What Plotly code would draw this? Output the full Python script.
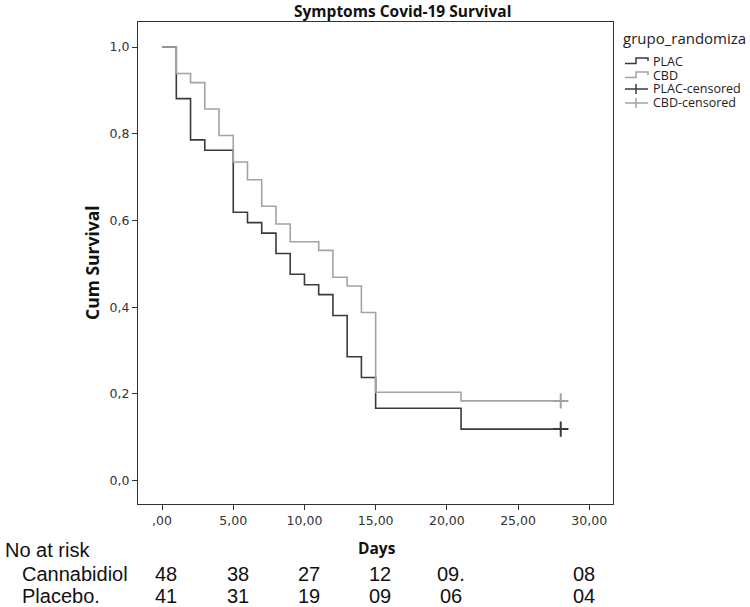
import plotly.graph_objects as go

# ---------------- data ----------------
plac_time = [0, 1, 2, 3, 5, 6, 7, 8, 9, 10, 11, 12, 13, 14, 15, 21, 28]
plac_surv = [1.0, 0.881, 0.786, 0.762, 0.619, 0.595, 0.571, 0.524, 0.476,
             0.452, 0.429, 0.381, 0.286, 0.238, 0.167, 0.119, 0.119]
cbd_time = [0, 1, 2, 3, 4, 5, 6, 7, 8, 9, 11, 12, 13, 14, 15, 21, 28]
cbd_surv = [1.0, 0.939, 0.918, 0.857, 0.796, 0.735, 0.694, 0.633, 0.592,
            0.551, 0.531, 0.469, 0.449, 0.388, 0.204, 0.184, 0.184]
plac_cens_time = [28]
plac_cens_surv = [0.119]
cbd_cens_time = [28]
cbd_cens_surv = [0.184]

x_tickvals = [0, 5, 10, 15, 20, 25, 30]
x_ticktext = [",00", "5,00", "10,00", "15,00", "20,00", "25,00", "30,00"]
y_tickvals = [0.0, 0.2, 0.4, 0.6, 0.8, 1.0]
y_ticktext = ["0,0", "0,2", "0,4", "0,6", "0,8", "1,0"]

risk_days = [0, 5, 10, 15, 20, 29.3]
risk_cbd = ["48", "38", "27", "12", "09.", "08"]
risk_plac = ["41", "31", "19", "09", "06", "04"]

legend_labels = ["PLAC", "CBD", "PLAC-censored", "CBD-censored"]

# ---------------- layout helpers ----------------
W_FIG, H_FIG = 750, 607
L, R, T, B = 138, 613, 22, 504
PW, PH = R - L, B - T


def px(x):
    return (x - L) / PW


def py(y):
    return (B - y) / PH


DARK = "#3a3a3a"
GRAY = "#a3a3a3"
AXC = "#333333"

fig = go.Figure()
fig.add_trace(go.Scatter(x=plac_time, y=plac_surv, mode="lines", line_shape="hv",
                         line=dict(color=DARK, width=1.6), name="PLAC", showlegend=False))
fig.add_trace(go.Scatter(x=cbd_time, y=cbd_surv, mode="lines", line_shape="hv",
                         line=dict(color=GRAY, width=1.6), name="CBD", showlegend=False))
fig.add_trace(go.Scatter(x=plac_cens_time, y=plac_cens_surv, mode="markers",
                         marker=dict(symbol="cross-thin", size=11, line=dict(color=DARK, width=2)),
                         name="PLAC-censored", showlegend=False))
fig.add_trace(go.Scatter(x=cbd_cens_time, y=cbd_cens_surv, mode="markers",
                         marker=dict(symbol="cross-thin", size=11, line=dict(color=GRAY, width=2)),
                         name="CBD-censored", showlegend=False))

x0 = -1.69
x1 = 31.67
y0 = -0.0537
y1 = 1.0577

annotations = []
# title
annotations.append(dict(text="<b>Symptoms Covid-19 Survival</b>", x=px(402), y=py(11),
                        xref="paper", yref="paper", showarrow=False, xanchor="center", yanchor="middle",
                        font=dict(family="Open Sans", size=15.5, color="#111")))
# axis titles
annotations.append(dict(text="<b>Cum Survival</b>", x=px(92), y=py(263), textangle=-90,
                        xref="paper", yref="paper", showarrow=False, xanchor="center", yanchor="middle",
                        font=dict(family="Open Sans", size=17.5, color="#111")))
annotations.append(dict(text="<b>Days</b>", x=px(377), y=py(548),
                        xref="paper", yref="paper", showarrow=False, xanchor="center", yanchor="middle",
                        font=dict(family="Open Sans", size=15.5, color="#111")))
# legend title
annotations.append(dict(text="grupo_randomiza", x=px(621), y=py(38),
                        xref="paper", yref="paper", showarrow=False, xanchor="left", yanchor="middle",
                        font=dict(family="Open Sans", size=15, color="#222")))
leg_y = [61, 75, 89, 103]
leg_col = [DARK, GRAY, DARK, GRAY]
shapes = []
for i, lab in enumerate(legend_labels):
    yy = leg_y[i]
    annotations.append(dict(text=lab, x=px(651), y=py(yy), xref="paper", yref="paper",
                            showarrow=False, xanchor="left", yanchor="middle",
                            font=dict(family="Open Sans", size=12.5, color="#222")))
    if i < 2:
        path = "M {a},{b} L {c},{b} L {c},{d} L {e},{d} L {e},{f}".format(
            a=px(625), b=py(yy + 2.5), c=px(636), d=py(yy - 3), e=px(648), f=py(yy))
        shapes.append(dict(type="path", path=path, xref="paper", yref="paper",
                           line=dict(color=leg_col[i], width=1.5)))
    else:
        shapes.append(dict(type="line", x0=px(625), x1=px(648), y0=py(yy), y1=py(yy),
                           xref="paper", yref="paper", line=dict(color=leg_col[i], width=1.5)))
        shapes.append(dict(type="line", x0=px(636), x1=px(636), y0=py(yy - 5), y1=py(yy + 5),
                           xref="paper", yref="paper", line=dict(color=leg_col[i], width=1.5)))

# number at risk table
RF = dict(family="Liberation Sans", size=20, color="#111")
annotations.append(dict(text="No at risk", x=px(3), y=py(550), xref="paper", yref="paper",
                        showarrow=False, xanchor="left", yanchor="middle", font=RF))
annotations.append(dict(text="Cannabidiol", x=px(20), y=py(574), xref="paper", yref="paper",
                        showarrow=False, xanchor="left", yanchor="middle", font=RF))
annotations.append(dict(text="Placebo.", x=px(20), y=py(596), xref="paper", yref="paper",
                        showarrow=False, xanchor="left", yanchor="middle", font=RF))
for d, c, p in zip(risk_days, risk_cbd, risk_plac):
    annotations.append(dict(text=c, x=d + 0.3, y=py(574), xref="x", yref="paper",
                            showarrow=False, xanchor="center", yanchor="middle", font=RF))
    annotations.append(dict(text=p, x=d + 0.3, y=py(596), xref="x", yref="paper",
                            showarrow=False, xanchor="center", yanchor="middle", font=RF))

tickfont = dict(family="DejaVu Sans", size=12.5, color=AXC)
fig.update_layout(
    width=W_FIG, height=H_FIG, autosize=False,
    margin=dict(l=L, r=W_FIG - R, t=T, b=H_FIG - B, pad=0),
    paper_bgcolor="white", plot_bgcolor="white",
    showlegend=False,
    xaxis=dict(range=[x0, x1], tickvals=x_tickvals, ticktext=x_ticktext, ticks="outside",
               ticklen=5, tickwidth=1.3, tickcolor=AXC, showline=True, mirror=True,
               linecolor=AXC, linewidth=1.3, showgrid=False, zeroline=False, tickfont=tickfont),
    yaxis=dict(range=[y0, y1], tickvals=y_tickvals, ticktext=y_ticktext, ticks="outside",
               ticklen=5, tickwidth=1.3, tickcolor=AXC, showline=True, mirror=True,
               linecolor=AXC, linewidth=1.3, showgrid=False, zeroline=False, tickfont=tickfont),
    annotations=annotations,
    shapes=shapes,
)

fig.write_html("out.html", config={"displayModeBar": False},
               post_script="document.body.style.margin='0';document.body.style.padding='0';")
